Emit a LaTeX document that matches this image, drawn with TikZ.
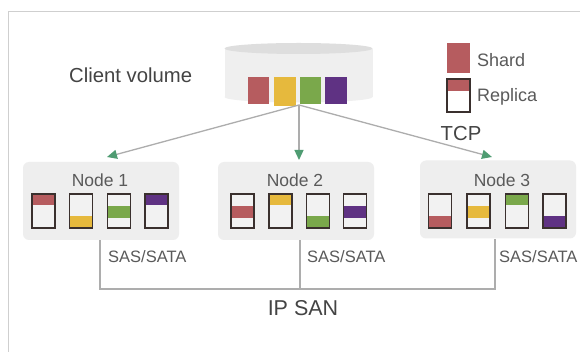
\documentclass[tikz,border=0pt]{standalone}
\usepackage{fontspec}
\setmainfont{Liberation Sans}
\usetikzlibrary{arrows.meta}
\definecolor{shred}{HTML}{B65C5F}
\definecolor{shyel}{HTML}{E6B93D}
\definecolor{shgrn}{HTML}{7AA84B}
\definecolor{shpur}{HTML}{5F3283}
\definecolor{agreen}{HTML}{4F9C72}
\definecolor{lgray}{HTML}{ADADAD}
\definecolor{framec}{HTML}{CFCFCF}
\definecolor{nodebg}{HTML}{EEEEEE}
\definecolor{cylbody}{HTML}{EFEFEF}
\definecolor{cyltop}{HTML}{DEDEDE}
\definecolor{txtdark}{HTML}{444444}
\definecolor{txtmid}{HTML}{5A5A5A}
\definecolor{boxedge}{HTML}{3A302E}
\definecolor{diskin}{HTML}{F2F2F2}
\newcommand\mydisk[3]{%
  \fill[diskin] (#1,194) rectangle ++(23,34);
  \fill[#2] (#1,#3) rectangle ++(23,11.5);
  \draw[diskedge] (#1,194) rectangle ++(23,34);
}
\tikzset{
  nodebox/.style={fill=nodebg, draw=none, rounded corners=6pt, minimum width=156pt, minimum height=78pt, inner sep=0pt},
  diskedge/.style={draw=boxedge, line width=1.4pt},
  arrowline/.style={draw=lgray, line width=1.3pt, -{Triangle[length=10pt,width=9pt,color=agreen]}},
  busline/.style={draw=lgray, line width=1.4pt},
  bigtxt/.style={inner sep=0pt, text=txtdark, font=\fontsize{20.3}{24}\selectfont},
  nodetxt/.style={inner sep=0pt, text=txtmid, font=\fontsize{17.5}{20}\selectfont},
  legtxt/.style={inner sep=0pt, text=txtmid, font=\fontsize{18}{21}\selectfont},
  smalltxt/.style={inner sep=0pt, text=txtmid, font=\fontsize{16.5}{19}\selectfont},
}
\begin{document}
\begin{tikzpicture}[x=1pt, y=-1pt]
\useasboundingbox (0,0) rectangle (580,352);
\fill[white] (0,0) rectangle (580,352);
% frame
\draw[framec, line width=1pt] (8,352) -- (8,12) -- (580,12);

% cylinder (client volume)
\fill[cylbody] (224.5,49) rectangle (372.5,97);
\fill[cylbody] (298.5,97) ellipse [x radius=74, y radius=5.5];
\fill[cyltop] (298.5,48.5) ellipse [x radius=74, y radius=5.5];
\fill[shred] (248,77) rectangle (269,104);
\fill[shyel] (274,77) rectangle (296,106);
\fill[shgrn] (300,77) rectangle (321,104);
\fill[shpur] (325,77) rectangle (347,104);
\coordinate (vol) at (299,105);
\node[bigtxt, anchor=west] (cvlabel) at (69,75) {Client volume};

% legend
\fill[shred] (447,43) rectangle (470,73);
\node[legtxt, anchor=west] (shardlbl) at (477,60) {Shard};
\fill[white] (447,79) rectangle (470,112);
\fill[shred] (447,79) rectangle (470,91);
\draw[diskedge] (447,79) rectangle (470,112);
\node[legtxt, anchor=west] (replbl) at (477,97) {Replica};

% storage nodes
\node[nodebox] (n1) at (101,201) {};
\node[nodebox] (n2) at (296,201) {};
\node[nodebox] (n3) at (498,199.5) {};
\node[nodetxt] (l1) at (100,180) {Node 1};
\node[nodetxt] (l2) at (295,180) {Node 2};
\node[nodetxt] (l3) at (502,180) {Node 3};

% node 1 disks
\mydisk{32}{shred}{194}
\mydisk{69.5}{shyel}{216.5}
\mydisk{107.5}{shgrn}{206.5}
\mydisk{145}{shpur}{194}
% node 2 disks
\mydisk{231}{shred}{206.5}
\mydisk{269}{shyel}{194}
\mydisk{306.5}{shgrn}{216.5}
\mydisk{343.5}{shpur}{206.5}
% node 3 disks
\mydisk{428.5}{shred}{216.5}
\mydisk{467}{shyel}{206.5}
\mydisk{505.5}{shgrn}{194}
\mydisk{543}{shpur}{216.5}

% TCP arrows
\coordinate (t1) at (107,157);
\coordinate (t2) at (299,160);
\coordinate (t3) at (492,157);
\draw[arrowline] (vol) -- (t1);
\draw[arrowline] (vol) -- (t2);
\draw[arrowline] (vol) -- (t3);
\node[bigtxt] (tcp) at (461,134) {TCP};

% IP SAN bus
\coordinate (b1) at (100,289);
\coordinate (b2) at (300,289);
\coordinate (b3) at (495,289);
\draw[busline] (n1.south -| b1) -- (b1) -- (b3) -- (n3.south -| b3);
\draw[busline] (n2.south -| b2) -- (b2);
\node[smalltxt, anchor=west] (s1) at (108,257) {SAS/SATA};
\node[smalltxt, anchor=west] (s2) at (307,257) {SAS/SATA};
\node[smalltxt, anchor=west] (s3) at (499,257) {SAS/SATA};
\node[bigtxt, font=\fontsize{21.5}{25}\selectfont] (ipsan) at (303,308) {IP SAN};
\end{tikzpicture}
\end{document}
